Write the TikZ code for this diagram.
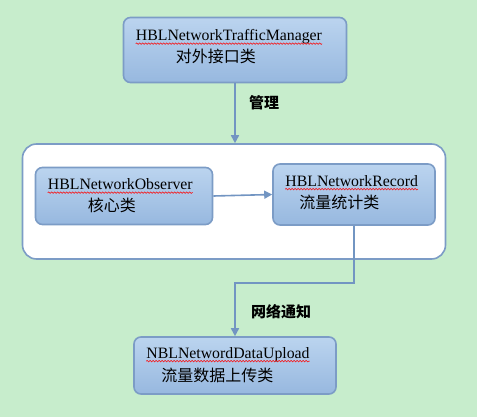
\documentclass[tikz,border=0pt]{standalone}
\usepackage{fontspec}
\setmainfont{Liberation Serif}
\newfontfamily\cjk{Noto Sans CJK SC}
\usetikzlibrary{arrows.meta,positioning,calc,decorations.pathmorphing}
\definecolor{bggreen}{RGB}{199,237,204}
\definecolor{boxtop}{RGB}{187,212,239}
\definecolor{boxbot}{RGB}{151,184,223}
\definecolor{boxline}{RGB}{124,156,198}
\definecolor{linkblue}{RGB}{114,149,194}

\begin{document}
\begin{tikzpicture}[x=1pt, y=-1pt,
  block/.style={rectangle, draw=boxline, line width=1.6pt, rounded corners=7pt,
    top color=boxtop, bottom color=boxbot, inner sep=0pt},
  frame/.style={rectangle, draw=boxline, line width=1.6pt, rounded corners=14pt,
    fill=white, inner sep=0pt},
  entext/.style={anchor=base west, inner sep=0pt, font=\fontsize{15.8}{18}\selectfont},
  zhtext/.style={anchor=base west, inner sep=0pt, font=\cjk\fontsize{16}{18}\selectfont},
  tag/.style={inner sep=0pt, font=\cjk\bfseries\fontsize{15}{18}\selectfont},
  squiggle/.style={red, line width=0.5pt, decorate,
    decoration={snake, segment length=3pt, amplitude=0.8pt}},
  arrow/.style={-{Triangle[length=8pt,width=8pt]}, draw=linkblue, line width=1.6pt}]
  % page
  \fill[bggreen] (0,0) rectangle (477,417);
  \useasboundingbox (0,0) rectangle (477,417);
  % boxes
  \node[block, minimum width=223pt, minimum height=65pt] (mgr) at (235,50) {};
  \node[frame, minimum width=423pt, minimum height=115pt] (core) at (234,201.5) {};
  \node[block, minimum width=177pt, minimum height=57pt] (obs) at (124,196) {};
  \node[block, minimum width=162pt, minimum height=61pt] (rec) at (354,194.5) {};
  \node[block, minimum width=202pt, minimum height=57pt] (up) at (235,365.5) {};
  % texts
  \node[entext] (mgren) at ($(mgr.north west)+(13,24)$) {HBLNetworkTrafficManager};
  \node[zhtext] (mgrzh) at ($(mgr.north west)+(53,46)$) {对外接口类};
  \node[entext] (obsen) at ($(obs.north west)+(13,23)$) {HBLNetworkObserver};
  \node[zhtext] (obszh) at ($(obs.north west)+(53,45)$) {核心类};
  \node[entext] (recen) at ($(rec.north west)+(13,23)$) {HBLNetworkRecord};
  \node[zhtext] (reczh) at ($(rec.north west)+(27,45)$) {流量统计类};
  \node[entext] (upen) at ($(up.north west)+(13,22)$) {NBLNetwordDataUpload};
  \node[zhtext] (upzh) at ($(up.north west)+(28,45)$) {流量数据上传类};
  % spell marks
  \foreach \w in {mgren, obsen, recen, upen}
    \draw[squiggle] ($(\w.base west)+(0,3)$) -- ($(\w.base east)+(0,3)$);
  % links
  \coordinate (bend1) at ($(rec.south)+(0,57)$);
  \coordinate (bend2) at (up.north |- bend1);
  \draw[arrow] (mgr.south) -- (mgr.south |- core.north);
  \draw[arrow] (obs.east) -- (rec.west);
  \draw[arrow] (rec.south) -- (bend1) -- (bend2) -- (up.north);
  \node[tag] (manage) at (264,103) {管理};
  \node[tag] (notify) at (281,312) {网络通知};
\end{tikzpicture}
\end{document}
